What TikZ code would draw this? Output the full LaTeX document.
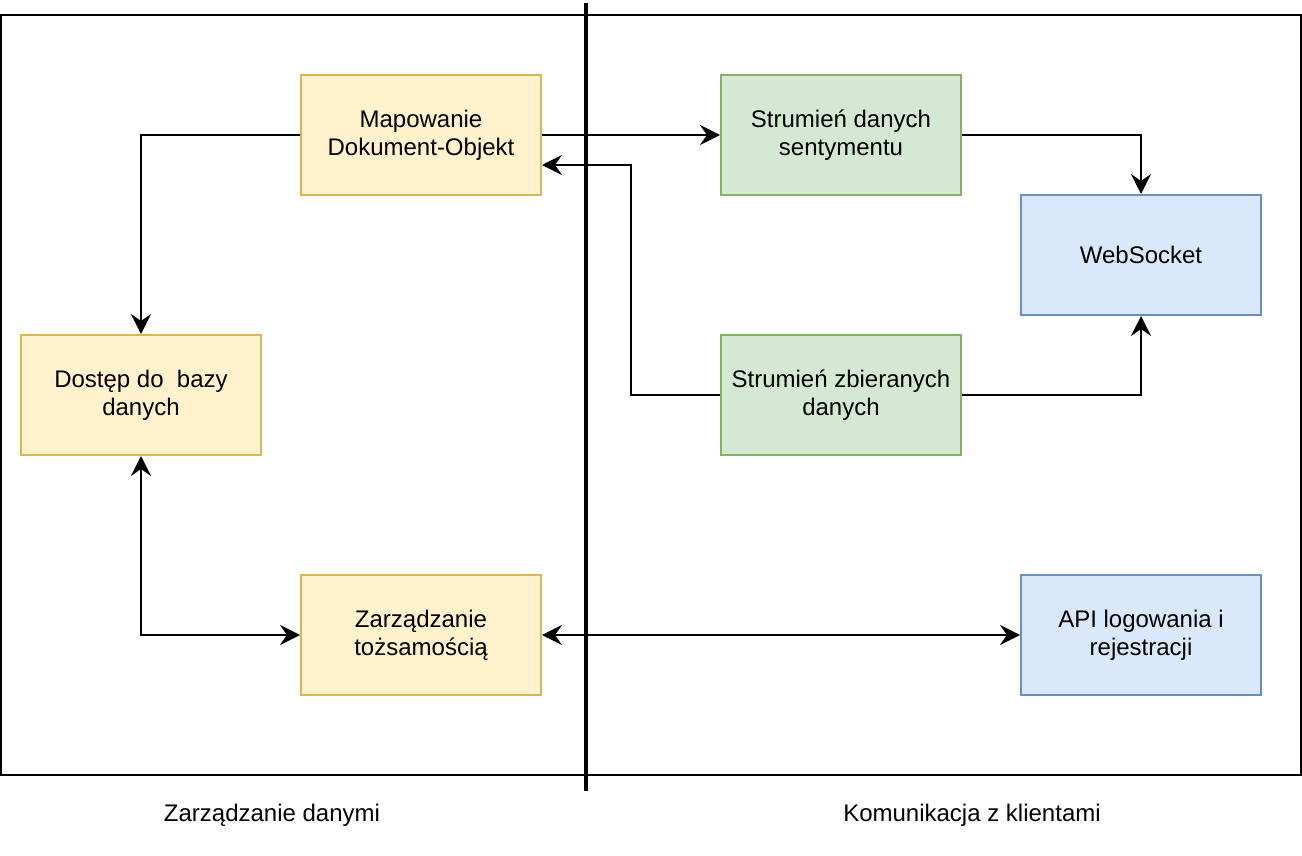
\documentclass[tikz,border=0pt]{standalone}
\usepackage{fontspec}
\setmainfont{Liberation Sans}
\usetikzlibrary{arrows.meta, positioning}
\definecolor{dbfill}{RGB}{255,242,204}
\definecolor{dbline}{RGB}{214,182,86}
\definecolor{streamfill}{RGB}{213,232,212}
\definecolor{streamline}{RGB}{130,179,102}
\definecolor{apifill}{RGB}{218,232,252}
\definecolor{apiline}{RGB}{108,142,191}

\begin{document}
\begin{tikzpicture}[x=1pt, y=-1pt, font=\fontsize{24}{28}\selectfont,
    box/.style={draw, minimum width=240pt, minimum height=120pt, align=center, line width=2pt},
    dbbox/.style={box, fill=dbfill, draw=dbline},
    streambox/.style={box, fill=streamfill, draw=streamline},
    apibox/.style={box, fill=apifill, draw=apiline},
    conn/.style={line width=2pt, -{Stealth[length=20pt, width=20pt, inset=7pt]}},
    biconn/.style={line width=2pt, {Stealth[length=20pt, width=20pt, inset=7pt]}-{Stealth[length=20pt, width=20pt, inset=7pt]}}]
    \useasboundingbox (0,0) rectangle (1302,856);

    % Frame and divider
    \draw[line width=2pt] (1,15) rectangle (1301,775);
    \draw[line width=4pt] (586,3) -- (586,791);

    % Data management
    \node[dbbox] (mapping) at (421,135) {Mapowanie\\Dokument-Objekt};
    \node[dbbox] (dbaccess) at (141,395) {Dostęp do~ bazy\\danych};
    \node[dbbox] (identity) at (421,635) {Zarządzanie\\tożsamością};

    % Client communication
    \node[streambox] (sentiment) at (841,135) {Strumień danych\\sentymentu};
    \node[streambox] (collected) at (841,395) {Strumień zbieranych\\danych};
    \node[apibox] (websocket) at (1141,255) {WebSocket};
    \node[apibox] (login) at (1141,635) {API logowania i\\rejestracji};

    % Section labels
    \node (leftlabel) at (272,815) {Zarządzanie danymi};
    \node (rightlabel) at (972,815) {Komunikacja z klientami};

    % Connectors
    \draw[conn] (mapping.west) -| (dbaccess.north);
    \draw[conn] (mapping.east) -- (sentiment.west);
    \draw[conn] (sentiment.east) -| (websocket.north);
    \draw[conn] (collected.west) -- (631,395) |- ([yshift=-30pt]mapping.east);
    \draw[conn] (collected.east) -| (websocket.south);
    \draw[biconn] (dbaccess.south) |- (identity.west);
    \draw[biconn] (identity.east) -- (login.west);
\end{tikzpicture}
\end{document}
